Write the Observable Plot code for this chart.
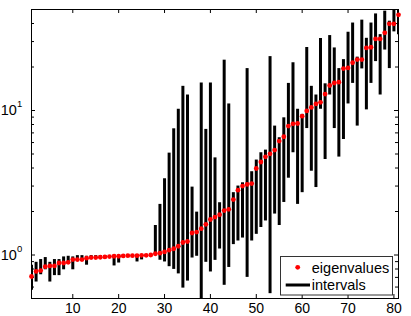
<!DOCTYPE html>
<html><head><meta charset="utf-8">
<script src="https://cdn.jsdelivr.net/npm/d3@7"></script>
<script src="https://cdn.jsdelivr.net/npm/@observablehq/plot@0.6"></script>
<style>
html,body{margin:0;padding:0;background:#fff;}
#chart{width:411px;height:316px;}
</style>
</head><body><div id="chart"></div>
<script>
// ---- data ----
const index = [1,2,3,4,5,6,7,8,9,10,11,12,13,14,15,16,17,18,19,20,21,22,23,24,25,26,27,28,29,30,31,32,33,34,35,36,37,38,39,40,41,42,43,44,45,46,47,48,49,50,51,52,53,54,55,56,57,58,59,60,61,62,63,64,65,66,67,68,69,70,71,72,73,74,75,76,77,78,79,80,81];
const eigenvalues = [0.71,0.77,0.78,0.83,0.84,0.84,0.88,0.88,0.89,0.93,0.93,0.93,0.95,0.96,0.96,0.965,0.97,0.975,0.98,0.98,0.985,0.99,0.99,0.99,0.995,0.995,1.0,1.02,1.03,1.05,1.08,1.105,1.15,1.22,1.24,1.42,1.44,1.52,1.63,1.76,1.83,1.90,2.03,2.07,2.42,2.81,3.0,3.08,3.12,3.97,4.40,4.78,5.01,5.32,6.14,6.58,7.80,8.09,8.13,9.14,9.93,10.5,11.1,11.4,13.0,14.9,15.5,15.7,19.5,19.7,21.4,22.5,22.5,27.1,27.4,31.3,31.3,34.5,39.8,39.8,45.9];
const intervalLow = [0.57,0.65,0.73,0.79,0.65,0.72,0.72,0.79,0.86,0.79,0.90,0.92,0.85,0.94,0.95,0.95,0.96,0.96,0.84,0.88,0.96,0.97,0.97,0.895,0.925,0.97,0.98,0.99,0.92,0.895,0.83,0.795,0.74,0.59,0.66,0.953,0.98,0.45,0.89,0.763,0.918,1.10,0.617,0.82,1.18,1.25,1.31,0.70,1.25,1.39,1.55,1.72,0.54,1.92,1.60,2.31,3.40,5.10,2.24,2.70,7.5,3.8,2.93,10.2,4.58,12.8,7.5,4.76,6.30,11.1,15.4,7.8,19.4,10.1,15.4,21.8,12.8,26.2,19.5,35.0,33.5];
const intervalHigh = [0.85,0.89,0.93,0.96,0.89,0.93,0.93,0.97,0.98,0.97,0.99,0.99,0.98,0.99,0.99,0.99,0.99,0.99,0.99,0.99,1.0,1.0,1.0,1.0,1.0,1.0,1.01,1.6,2.24,3.37,5.07,7.47,10.2,14.7,12.8,2.95,1.98,15.5,7.4,15.5,4.7,2.30,22.3,11.1,2.70,3.0,3.16,19.5,3.77,4.54,5.10,5.32,23.6,7.8,6.48,8.9,15.4,21.4,10.2,9.4,27.3,14.7,12.8,31.5,15.3,33.0,27.1,19.5,22.5,34.8,40.3,23.4,42.2,31.6,40.3,46.6,33.5,48.7,41.5,52,60];
const xTicks = [10,20,30,40,50,60,70,80];
const yMajor = [1,10];
const yMinor = [0.6,0.7,0.8,0.9,2,3,4,5,6,7,8,9,20,30,40];
const yLabelBase = ["10","10"];
const yLabelExp = ["0","1"];
const legendLabels = ["eigenvalues","intervals"];

// ---- layout ----
const W = 411, H = 316, mL = 31, mR = 13, mT = 9, mB = 18;
const pw = W - mL - mR, ph = H - mT - mB;
const font = "'Liberation Sans', Arial, Helvetica, sans-serif";

const data = index.map((i, k) => ({i, eig: eigenvalues[k], lo: intervalLow[k], hi: intervalHigh[k]}));

const plot = Plot.plot({
  width: W, height: H,
  marginLeft: mL, marginRight: mR, marginTop: mT, marginBottom: mB,
  x: {type: "linear", domain: [1, 81], label: null},
  y: {type: "log", domain: [0.5, 50], axis: null, label: null},
  style: {fontFamily: font, fontSize: "14px", color: "#000", background: "#fff"},
  marks: [
    Plot.ruleX(data, {x: "i", y1: "lo", y2: "hi", stroke: "#000", strokeWidth: 3, clip: true}),
    Plot.ruleX(xTicks, {insetTop: ph - 4, stroke: "#000"}),
    Plot.ruleX(xTicks, {insetBottom: ph - 4, stroke: "#000"}),
    Plot.ruleY(yMajor, {insetRight: pw - 4, stroke: "#000"}),
    Plot.ruleY(yMajor, {insetLeft: pw - 4, stroke: "#000"}),
    Plot.ruleY(yMinor, {insetRight: pw - 3, stroke: "#000"}),
    Plot.ruleY(yMinor, {insetLeft: pw - 3, stroke: "#000"}),
    Plot.frame({stroke: "#000"}),
    Plot.dot(data, {x: "i", y: "eig", r: 2.4, fill: "#ff0000", stroke: null}),
    Plot.axisX({ticks: xTicks, tickSize: 0, tickPadding: 4.5, fontSize: 14, label: null}),
    Plot.text(yMajor, {y: d => d, frameAnchor: "left", text: (d, k) => yLabelBase[k], textAnchor: "end", lineAnchor: "middle", dx: -14.7, fontSize: 14.5}),
    Plot.text(yMajor, {y: d => d, frameAnchor: "left", text: (d, k) => yLabelExp[k], textAnchor: "start", lineAnchor: "middle", dx: -14.5, dy: -6.3, fontSize: 9.5})
  ]
});

// legend (inside plot, bottom-right)
const svg = d3.select(plot);
const g = svg.append("g").attr("font-family", font).attr("font-size", "14.5px").attr("text-anchor", "start");
g.append("rect").attr("x", 280.5).attr("y", 256.5).attr("width", 112).attr("height", 38.5)
  .attr("fill", "#fff").attr("stroke", "#333").attr("stroke-width", 1);
g.append("circle").attr("cx", 297.7).attr("cy", 267.3).attr("r", 2.4).attr("fill", "#ff0000");
g.append("line").attr("x1", 285.7).attr("x2", 310).attr("y1", 285).attr("y2", 285)
  .attr("stroke", "#000").attr("stroke-width", 3);
g.append("text").attr("x", 311.8).attr("y", 273).attr("fill", "#000").attr("text-anchor", "start").text(legendLabels[0]);
g.append("text").attr("x", 311.8).attr("y", 290.4).attr("fill", "#000").attr("text-anchor", "start").text(legendLabels[1]);

document.getElementById("chart").appendChild(plot);
</script>
</body></html>
